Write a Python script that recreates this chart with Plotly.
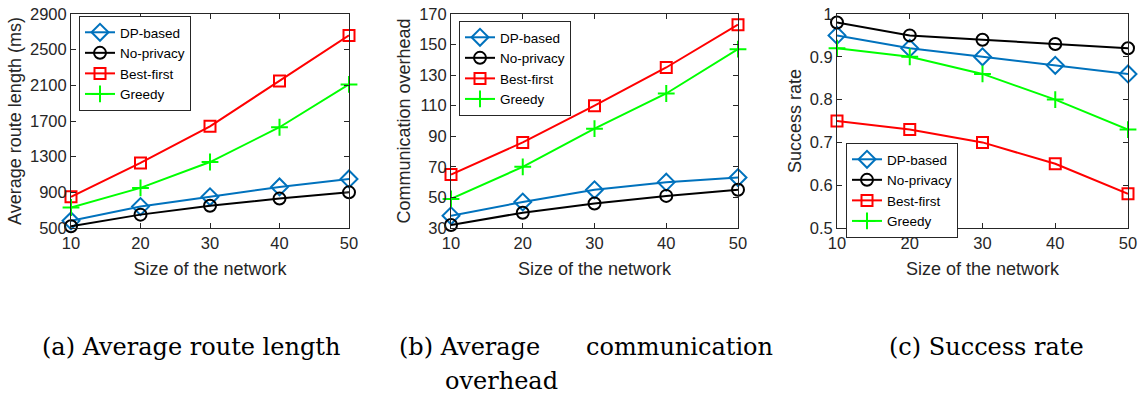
import plotly.graph_objects as go

sizes = [10, 20, 30, 40, 50]
series_names = ["DP-based", "No-privacy", "Best-first", "Greedy"]

route_dp = [580, 740, 850, 960, 1050]
route_noprivacy = [520, 650, 750, 830, 900]
route_bestfirst = [850, 1230, 1640, 2150, 2660]
route_greedy = [730, 950, 1240, 1630, 2110]

comm_dp = [38, 47, 55, 60, 63]
comm_noprivacy = [32, 40, 46, 51, 55]
comm_bestfirst = [65, 86, 110, 135, 163]
comm_greedy = [49, 70, 95, 118, 147]

succ_dp = [0.95, 0.92, 0.90, 0.88, 0.86]
succ_noprivacy = [0.98, 0.95, 0.94, 0.93, 0.92]
succ_bestfirst = [0.75, 0.73, 0.70, 0.65, 0.58]
succ_greedy = [0.92, 0.90, 0.86, 0.80, 0.73]

route_ticks = [500, 900, 1300, 1700, 2100, 2500, 2900]
comm_ticks = [30, 50, 70, 90, 110, 130, 150, 170]
succ_ticks = [0.5, 0.6, 0.7, 0.8, 0.9, 1.0]
succ_ticklabels = ["0.5", "0.6", "0.7", "0.8", "0.9", "1"]

x_title = "Size of the network"
y_titles = ["Average route length (ms)", "Communication overhead", "Success rate"]
captions = ["(a) Average route length", "(b) Average", "communication", "overhead", "(c) Success rate"]

colors = ["#0072BD", "#000000", "#FF0000", "#00FF00"]
symbols = ["diamond-open", "circle-open", "square-open", "cross-thin-open"]
msizes = [13, 12, 11, 12]

W, H = 1147, 397
def px(x):
    return x / W
def py(y):
    return 1 - y / H

fig = go.Figure()

panels = [
    ([route_dp, route_noprivacy, route_bestfirst, route_greedy], "x", "y", "legend"),
    ([comm_dp, comm_noprivacy, comm_bestfirst, comm_greedy], "x2", "y2", "legend2"),
    ([succ_dp, succ_noprivacy, succ_bestfirst, succ_greedy], "x3", "y3", "legend3"),
]

for data, xa, ya, lg in panels:
    for name, vals, c, s, ms in zip(series_names, data, colors, symbols, msizes):
        fig.add_trace(go.Scatter(
            x=sizes, y=vals, name=name, mode="lines+markers",
            line=dict(color=c, width=2),
            marker=dict(symbol=s, size=ms, color=c, line=dict(color=c, width=2)),
            xaxis=xa, yaxis=ya, legend=lg, cliponaxis=False,
        ))

sans = "Liberation Sans, Arial"
axis_font = dict(family=sans, size=16.5, color="#262626")
title_font = dict(family=sans, size=18, color="#262626")
common_axis = dict(
    showline=True, linecolor="#262626", linewidth=1, mirror="ticks",
    ticks="inside", ticklen=5, tickwidth=1, tickcolor="#262626",
    showgrid=False, zeroline=False, tickfont=axis_font, automargin=False,
)

xdomains = [(71, 349), (451, 738), (837, 1128)]
ydomain = [py(228), py(14)]

layout = dict(
    width=W, height=H, margin=dict(l=0, r=0, t=0, b=0),
    paper_bgcolor="white", plot_bgcolor="white",
    font=dict(family=sans, color="#262626"),
)

yranges = [(500, 2900, route_ticks, None), (30, 170, comm_ticks, None), (0.5, 1.0, succ_ticks, succ_ticklabels)]
for i in range(3):
    sfx = "" if i == 0 else str(i + 1)
    d = xdomains[i]
    layout["xaxis" + sfx] = dict(
        common_axis, domain=[px(d[0]), px(d[1])], range=[10, 50],
        tickvals=sizes, anchor="y" + sfx,
        title=dict(text=x_title, font=title_font, standoff=11),
    )
    lo, hi, tv, tt = yranges[i]
    ya = dict(
        common_axis, domain=ydomain, range=[lo, hi], tickvals=tv, anchor="x" + sfx,
        title=dict(text=y_titles[i], font=title_font, standoff=3),
    )
    if tt:
        ya["ticktext"] = tt
    layout["yaxis" + sfx] = ya

leg_common = dict(
    bgcolor="white", bordercolor="#262626", borderwidth=1,
    font=dict(family=sans, size=13.5, color="#000000"),
    xanchor="left", yanchor="top", tracegroupgap=0, itemwidth=30,
)
layout["legend"] = dict(leg_common, x=px(79), y=py(16))
layout["legend2"] = dict(leg_common, x=px(459), y=py(21))
layout["legend3"] = dict(leg_common, x=px(846), y=py(143))

fig.update_layout(**layout)

cap_font = dict(family="DejaVu Serif", size=24, color="#000000")
cap_y1, cap_y2 = 347, 381
fig.add_annotation(text=captions[0], x=px(40), y=py(cap_y1), xref="paper", yref="paper",
                   xanchor="left", yanchor="middle", showarrow=False, font=cap_font)
fig.add_annotation(text=captions[1], x=px(397), y=py(cap_y1), xref="paper", yref="paper",
                   xanchor="left", yanchor="middle", showarrow=False, font=cap_font)
fig.add_annotation(text=captions[2], x=px(775), y=py(cap_y1), xref="paper", yref="paper",
                   xanchor="right", yanchor="middle", showarrow=False, font=cap_font)
fig.add_annotation(text=captions[3], x=px(443), y=py(cap_y2), xref="paper", yref="paper",
                   xanchor="left", yanchor="middle", showarrow=False, font=cap_font)
fig.add_annotation(text=captions[4], x=px(887), y=py(cap_y1), xref="paper", yref="paper",
                   xanchor="left", yanchor="middle", showarrow=False, font=cap_font)

fig.write_html("out.html", config={"displayModeBar": False},
               post_script="document.body.style.margin='0px';document.body.style.overflow='hidden';")
